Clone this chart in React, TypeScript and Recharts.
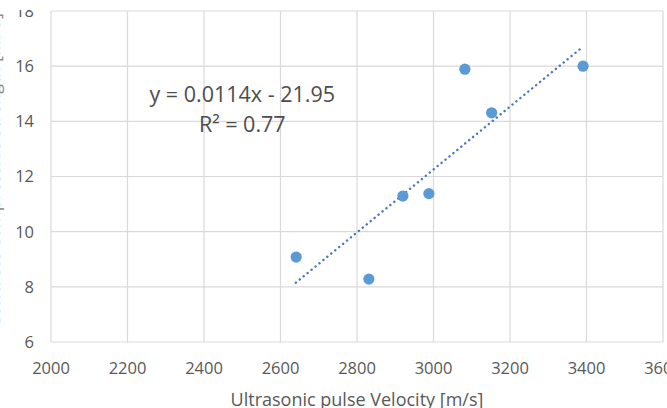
import React from 'react';
import { ScatterChart, Scatter, XAxis, YAxis, CartesianGrid, ReferenceLine, ReferenceDot } from 'recharts';

const velocity = [2641, 2831, 2920, 2988, 3082, 3152, 3391];
const strength = [9.08, 8.28, 11.29, 11.38, 15.89, 14.31, 16.0];
const trendVelocity = [2640, 3390];
const trendStrength = [8.15, 16.7];
const xTicks = [2000, 2200, 2400, 2600, 2800, 3000, 3200, 3400, 3600];
const yTicks = [6, 8, 10, 12, 14, 16, 18];
const equationText = 'y = 0.0114x - 21.95';
const r2Text = 'R² = 0.77';
const equationAnchor = { x: 2500, y: 14.71 };
const xTitle = 'Ultrasonic pulse Velocity [m/s]';
const yTitle = 'Concrete compressive strength [MPa]';

const points = velocity.map((v, i) => ({ x: v, y: strength[i] }));
const trendSegment = trendVelocity.map((v, i) => ({ x: v, y: trendStrength[i] }));

const FONT = '"Open Sans", sans-serif';
const TICK_COLOR = '#595959';

export default function App() {
  return (
    <div style={{ position: 'absolute', left: 0, top: 0, width: 667, height: 408, background: '#fff', overflow: 'hidden' }}>
      <ScatterChart width={667} height={408} margin={{ top: 11, right: 4, bottom: 0, left: 0 }}>
        <CartesianGrid stroke="#d9d9d9" strokeWidth={1.2} />
        <XAxis
          type="number"
          dataKey="x"
          domain={[2000, 3600]}
          ticks={xTicks}
          interval={0}
          height={66}
          axisLine={false}
          tickLine={false}
          tickSize={0}
          tickMargin={20}
          tick={{ fill: TICK_COLOR, fontSize: 16.5, fontFamily: FONT }}
          label={(p: any) => {
            const vb = p.viewBox;
            return (
              <text x={vb.x + vb.width / 2} y={vb.y + 63.5} textAnchor="middle" fill={TICK_COLOR} fontSize={18} fontFamily={FONT}>
                {xTitle}
              </text>
            );
          }}
        />
        <YAxis
          type="number"
          dataKey="y"
          domain={[6, 18]}
          ticks={yTicks}
          interval={0}
          width={51}
          axisLine={false}
          tickLine={false}
          tickSize={0}
          tickMargin={17}
          tick={{ fill: TICK_COLOR, fontSize: 16.5, fontFamily: FONT }}
          label={(p: any) => {
            const vb = p.viewBox;
            const cx = vb.x;
            const cy = vb.y + vb.height / 2 - 6;
            return (
              <text x={cx} y={cy} textAnchor="middle" fill="#8c8c8c" fontSize={18} fontFamily={FONT} transform={`rotate(-90, ${cx}, ${cy})`}>
                {yTitle}
              </text>
            );
          }}
        />
        <ReferenceLine
          segment={trendSegment}
          stroke="#4a78c2"
          strokeWidth={2.4}
          strokeDasharray="0.1 5"
          strokeLinecap="round"
        />
        <Scatter data={points} fill="#5b9bd5" isAnimationActive={false} shape={(p: any) => <circle cx={p.cx} cy={p.cy} r={5.6} fill="#5b9bd5" />} />
        <ReferenceDot
          x={equationAnchor.x}
          y={equationAnchor.y}
          r={0}
          fill="none"
          stroke="none"
          label={(p: any) => {
            const vb = p.viewBox;
            const cx = vb.x + (vb.width || 0) / 2;
            const cy = vb.y + (vb.height || 0) / 2;
            return (
              <g>
                <text x={cx} y={cy} textAnchor="middle" fill="#4d4d4d" fontSize={21.5} fontFamily={FONT}>{equationText}</text>
                <text x={cx} y={cy + 30.6} textAnchor="middle" fill="#4d4d4d" fontSize={21.5} fontFamily={FONT}>{r2Text}</text>
              </g>
            );
          }}
        />
      </ScatterChart>
      <div style={{ position: 'absolute', left: 0, top: 0, width: 667, height: 10, background: '#fff' }} />
    </div>
  );
}
